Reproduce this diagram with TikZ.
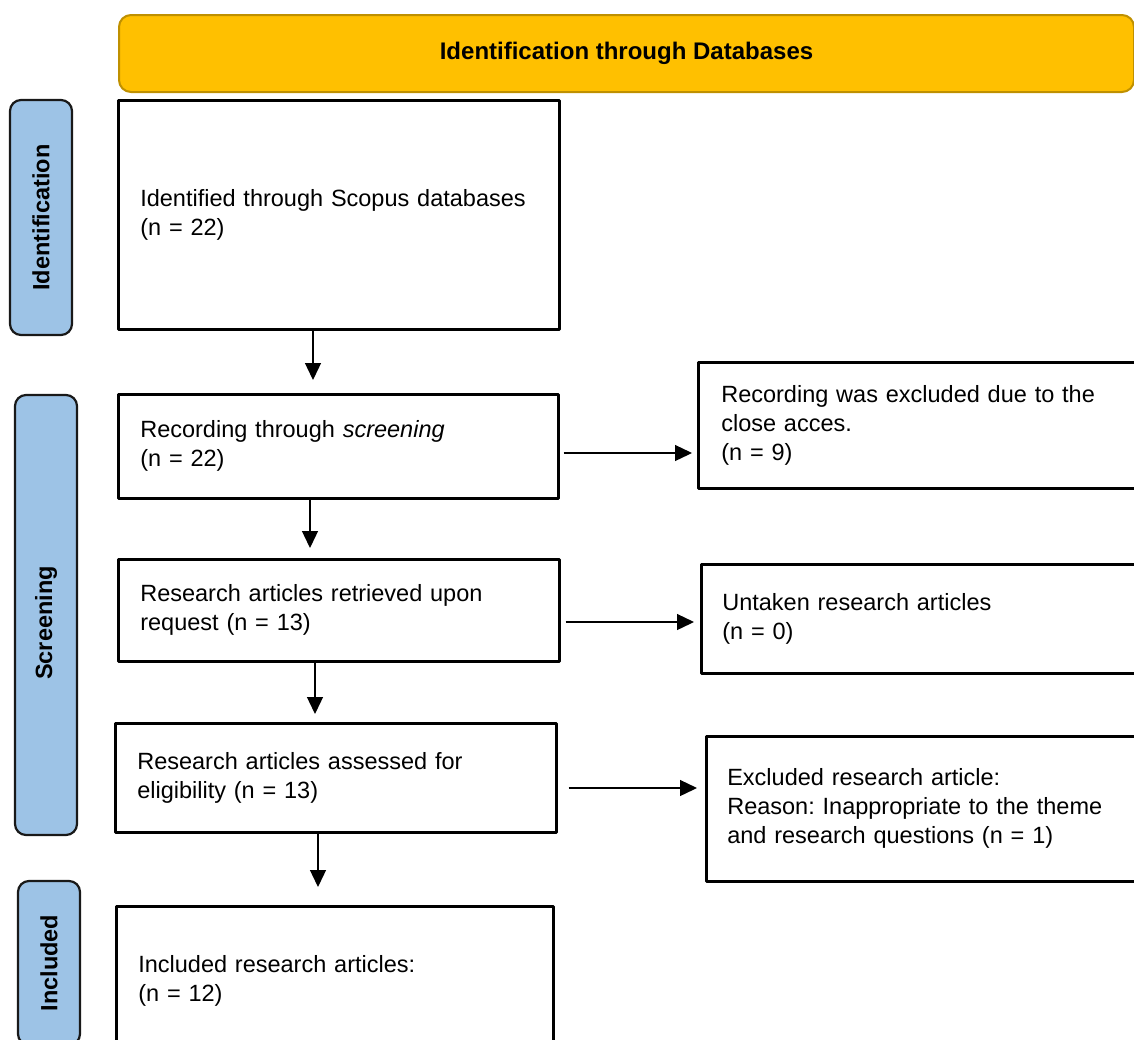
\documentclass[tikz,border=0pt]{standalone}
\usepackage{fontspec}
\setmainfont{Liberation Sans}
\usetikzlibrary{arrows.meta}
\definecolor{hdrfill}{HTML}{FFC000}
\definecolor{hdrline}{HTML}{BF9000}
\definecolor{stagefill}{HTML}{9DC3E6}
\frenchspacing
\begin{document}
\begin{tikzpicture}[x=1pt, y=-1pt, font=\fontsize{23.5}{29}\selectfont, line join=round,
		box/.style={draw, line width=2.6pt, anchor=north west, align=left, inner xsep=22pt, inner ysep=0pt},
		stage/.style={draw=black!90, fill=stagefill, line width=2.2pt, rounded corners=11pt, rotate=90, inner sep=0pt, font=\fontsize{23.5}{29}\selectfont\bfseries},
		flow/.style={line width=1.3pt, -{Triangle[length=17pt, width=16pt]}}]
				\useasboundingbox (0,0) rectangle (1134,1039);
				\clip (0,0) rectangle (1134,1039);
				\node[draw=hdrline, fill=hdrfill, line width=2pt, rounded corners=12pt, anchor=north west, minimum width=1015pt, minimum height=77pt, font=\fontsize{24}{29}\selectfont\bfseries] (hdr) at (118,14) {Identification through Databases};
				\node[stage, minimum width=235pt, minimum height=62pt] (idbar) at (41,217.5) {Identification};
				\node[stage, minimum width=440pt, minimum height=62pt] (scrbar) at (46,615) {Screening\kern16pt};
				\node[stage, minimum width=164pt, minimum height=62pt] (incbar) at (49,963) {Included};
				\node[box, minimum width=441pt, minimum height=229pt, text width=397pt] (ident) at (117,99) {Identified through Scopus databases\\(n = 22)};
				\node[box, minimum width=440pt, minimum height=104pt, text width=396pt] (screen) at (117,393) {Recording through \textit{screening}\\(n = 22)};
				\node[box, minimum width=441pt, minimum height=102pt, text width=397pt] (retr) at (117,558) {Research articles retrieved upon\\request (n = 13)};
				\node[box, minimum width=441pt, minimum height=109pt, text width=397pt] (elig) at (114,722) {Research articles assessed for\\eligibility (n = 13)};
				\node[box, minimum width=437pt, minimum height=150pt, text width=393pt] (incl) at (115,905) {Included research articles:\\(n = 12)};
				\node[box, inner xsep=23pt, minimum width=460pt, minimum height=126pt, text width=414pt] (excl1) at (697,361) {Recording was excluded due to the\\close acces.\\(n = 9)};
				\node[box, inner xsep=21pt, minimum width=460pt, minimum height=109pt, text width=418pt] (excl2) at (700,563) {Untaken research articles\\(n = 0)};
				\node[box, inner xsep=21pt, minimum width=460pt, minimum height=145pt, text width=418pt] (excl3) at (705,735) {Excluded research article:\\Reason: Inappropriate to the theme\\and research questions (n = 1)};
				\draw[flow, shorten >=13pt] (313,0 |- ident.south) -- (313,0 |- screen.north);
				\draw[flow, shorten >=10pt] (310,0 |- screen.south) -- (310,0 |- retr.north);
				\draw[flow, shorten >=8pt] (315,0 |- retr.south) -- (315,0 |- elig.north);
				\draw[flow, shorten >=18pt] (318,0 |- elig.south) -- (318,0 |- incl.north);
				\draw[flow, shorten <=4pt, shorten >=5pt] (screen.east |- 0,453) -- (excl1.west |- 0,453);
				\draw[flow, shorten <=5pt, shorten >=6pt] (retr.east |- 0,622) -- (excl2.west |- 0,622);
				\draw[flow, shorten <=11pt, shorten >=8pt] (elig.east |- 0,788) -- (excl3.west |- 0,788);
			\end{tikzpicture}
\end{document}
